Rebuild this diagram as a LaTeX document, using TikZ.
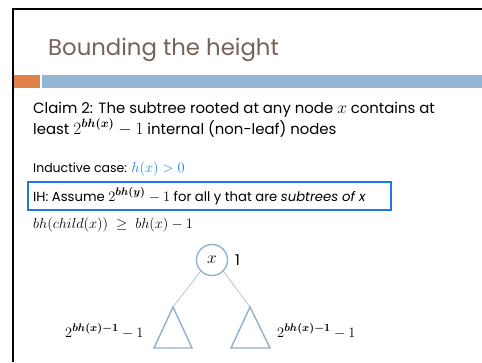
\documentclass[tikz,border=0pt]{standalone}
\usepackage{fontspec}
\setmainfont{Poppins}
\usepackage{amsmath}
\definecolor{titlebrown}{RGB}{117,98,90}
\definecolor{barorange}{RGB}{223,130,73}
\definecolor{barblue}{RGB}{148,182,210}
\definecolor{mathblue}{RGB}{30,130,230}
\definecolor{boxblue}{RGB}{30,120,230}
\definecolor{treeblue}{RGB}{143,176,206}
\newcommand{\mysizedmath}[2]{{\fontsize{#1}{#1}\selectfont$#2$}}
\tikzset{
  txt/.style={anchor=base west, inner sep=0pt, text=black},
  tri/.style={draw=treeblue, line width=1.4pt},
  edge/.style={draw=treeblue, line width=0.5pt},
}
\begin{document}
\begin{tikzpicture}[x=1pt,y=-1pt]
\useasboundingbox (0,0) rectangle (482,362);
\fill[white] (0,0) rectangle (482,362);
% frame
\draw[line width=2.2pt] (13,362) -- (13,9) -- (482,9);
% title
\node[txt, text=titlebrown, font=\fontsize{22.8}{27}\selectfont] (title) at (48,55) {Bounding the height};
% bars
\fill[barorange] (14,75) rectangle (40,88);
\fill[barblue] (42,75) rectangle (482,88);
% claim
\node[txt, font=\fontsize{14.9}{18}\selectfont] (claim1) at (33,113) {Claim 2: The subtree rooted at any node \mysizedmath{17.5}{x} contains at};
\node[txt, font=\fontsize{14.9}{18}\selectfont] (claim2) at (33,134) {least \mysizedmath{17.5}{2^{\boldsymbol{bh(x)}}-1} internal (non-leaf) nodes};
% inductive case
\node[txt, font=\fontsize{12.5}{14}\selectfont] (ind) at (33,172) {Inductive case: \textcolor{mathblue}{\mysizedmath{15}{h(x)>0}}};
% IH box
\draw[boxblue, line width=1.2pt] (28,182) rectangle (391,210);
\node[txt, font=\fontsize{13.2}{15}\selectfont] (ih) at (33,201) {IH: Assume \mysizedmath{15.5}{2^{\boldsymbol{bh(y)}}-1} for all y that are \textit{subtrees of} \textit{x}};
% bh child
\node[txt, font=\fontsize{15}{18}\selectfont] (bh) at (33,228) {$bh(child(x))\;\ge\;bh(x)-1$};
% tree
\node[circle, draw=treeblue, line width=1.4pt, minimum size=31pt, inner sep=0pt, font=\fontsize{16}{18}\selectfont] (root) at (212,260) {$x$};
\node[txt, font=\fontsize{15}{18}\selectfont] (one) at (235,265) {1};
\coordinate (lapex) at (173,307);
\coordinate (rapex) at (250,307);
\draw[edge] (root.225) -- (lapex);
\draw[edge] (root.315) -- (rapex);
\draw[tri] (lapex) -- (154,348) -- (192,348) -- cycle;
\draw[tri] (rapex) -- (231,348) -- (270,348) -- cycle;
\node[txt, font=\fontsize{15}{18}\selectfont] (llab) at (65,337) {$2^{\boldsymbol{bh(x)-1}}-1$};
\node[txt, font=\fontsize{15}{18}\selectfont] (rlab) at (277,337) {$2^{\boldsymbol{bh(x)-1}}-1$};
\end{tikzpicture}
\end{document}
